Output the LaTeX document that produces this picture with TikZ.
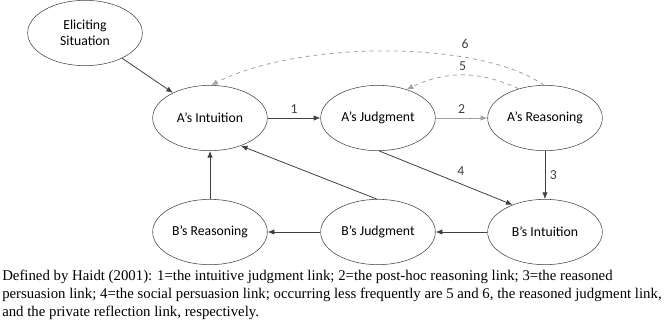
\documentclass[tikz,border=0pt]{standalone}
\usepackage{fontspec}
\setmainfont{Liberation Serif}
\newfontfamily\labelfont{Carlito}
\usetikzlibrary{shapes.geometric,arrows.meta}
\definecolor{linegray}{HTML}{404040}
\definecolor{lightgray}{HTML}{A0A0A0}
\begin{document}
\begin{tikzpicture}[x=0.75pt,y=-0.75pt,
  >={Latex[length=5pt,width=4pt]},
  state/.style={draw=linegray,ellipse,minimum width=86pt,minimum height=49pt,
    font=\labelfont\fontsize{10.3}{12}\selectfont,align=center,inner sep=0pt},
  link/.style={->,draw=linegray,line width=0.6pt},
  weak/.style={->,draw=lightgray,line width=0.6pt},
  num/.style={font=\labelfont\fontsize{10.3}{12}\selectfont,text=linegray}]
\useasboundingbox (0,0) rectangle (667,330);

\node[state] (elicit) at (85,33) {Eliciting\\Situation};

\node[state] (aint) at (210,118) {A’s Intuition};
\node[state] (ajudge) at (378,118) {A’s Judgment};
\node[state] (areason) at (545,118) {A’s Reasoning};

\node[state] (breason) at (210,232) {B’s Reasoning};
\node[state] (bjudge) at (378,232) {B’s Judgment};
\node[state] (bint) at (545,232) {B’s Intuition};

\draw[link] (elicit)--(aint);
\draw[link] (aint)--node[num,above]{1}(ajudge);
\draw[weak] (ajudge)--node[num,above]{2}(areason);
\draw[link] (areason)--node[num,right]{3}(bint);
\draw[link] (ajudge.-88)--node[num,above right,pos=0.55]{4}(bint.140);

\draw[link] (bint)--(bjudge);
\draw[link] (bjudge)--(breason);
\draw[link] (breason)--(aint);
\draw[link] (bjudge.92)--(aint.-42);

% less frequent links
\draw[weak,dashed] (areason.132) to[bend right=25] node[num,above]{5} (ajudge.45);
\draw[weak,dashed] (areason.92) .. controls (480,40) and (300,40) .. (aint.88);
\node[num] (six) at (465,44) {6};

\node[anchor=north west,align=left,inner sep=0pt,
  font=\fontsize{11.1}{13.5}\selectfont] (caption) at (2,270)
  {Defined by Haidt (2001): 1=the intuitive judgment link; 2=the post-hoc reasoning link; 3=the reasoned\\
   persuasion link; 4=the social persuasion link; occurring less frequently are 5 and 6, the reasoned judgment link,\\
   and the private reflection link, respectively.};
\end{tikzpicture}
\end{document}
